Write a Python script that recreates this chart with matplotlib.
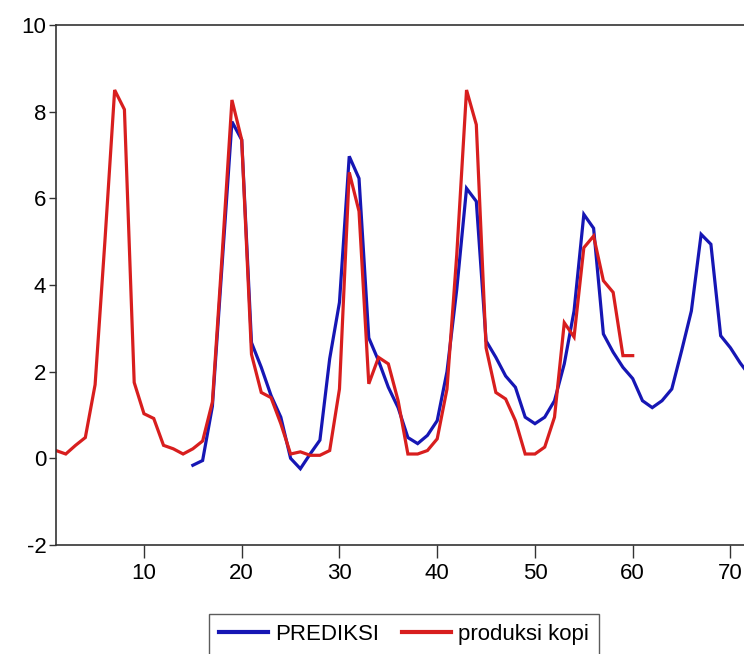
import numpy as np
import matplotlib
matplotlib.use("Agg")
import matplotlib.pyplot as plt

plt.rcParams['font.family'] = ['Liberation Sans', 'DejaVu Sans']
plt.rcParams['axes.unicode_minus'] = False

# produksi kopi: observations 1..60
prod_x = list(range(1, 61))
prod_y = [0.18, 0.10, 0.30, 0.48, 1.70, 5.00, 8.50, 8.05, 1.75, 1.03,
          0.92, 0.30, 0.22, 0.10, 0.22, 0.40, 1.30, 4.70, 8.27, 7.35,
          2.40, 1.52, 1.40, 0.80, 0.10, 0.15, 0.07, 0.07, 0.18, 1.60,
          6.60, 5.70, 1.72, 2.33, 2.18, 1.33, 0.10, 0.10, 0.18, 0.45,
          1.60, 4.70, 8.50, 7.70, 2.55, 1.52, 1.37, 0.87, 0.10, 0.10,
          0.26, 0.95, 3.13, 2.80, 4.86, 5.13, 4.10, 3.83, 2.37, 2.37]

# PREDIKSI: observations 15..72
pred_x = list(range(15, 73))
pred_y = [-0.16, -0.05, 1.20, 4.50, 7.77, 7.35, 2.67, 2.10, 1.45, 0.95,
          0.00, -0.24, 0.10, 0.42, 2.30, 3.60, 6.97, 6.46, 2.78, 2.25,
          1.64, 1.17, 0.48, 0.34, 0.53, 0.87, 2.00, 3.90, 6.23, 5.93,
          2.71, 2.33, 1.90, 1.64, 0.95, 0.80, 0.95, 1.33, 2.18, 3.40,
          5.63, 5.31, 2.87, 2.45, 2.10, 1.84, 1.33, 1.17, 1.33, 1.60,
          2.48, 3.40, 5.17, 4.94, 2.83, 2.55, 2.20, 1.90]

x_ticks = [10, 20, 30, 40, 50, 60, 70]
y_ticks = [-2, 0, 2, 4, 6, 8, 10]

W, H = 744, 654
fig = plt.figure(figsize=(W / 100, H / 100), dpi=100)
left_px, top_px, bottom_px, right_px = 56, 25, 545, 750
ax = fig.add_axes([left_px / W, 1 - bottom_px / H,
                   (right_px - left_px) / W, (bottom_px - top_px) / H])

ax.plot(pred_x, pred_y, color='#1616B4', lw=2.3, label='PREDIKSI',
        solid_joinstyle='miter')
ax.plot(prod_x, prod_y, color='#D81E1E', lw=2.3, label='produksi kopi',
        solid_joinstyle='miter')

ax.set_xlim(1, 72)
ax.set_ylim(-2, 10)
ax.set_xticks(x_ticks)
ax.set_yticks(y_ticks)
ax.tick_params(axis='both', direction='out', labelsize=16, color='#333333')
ax.tick_params(axis='x', length=9, width=1, pad=4)
ax.tick_params(axis='y', length=5, width=1, pad=2)
for s in ['left', 'top', 'bottom', 'right']:
    ax.spines[s].set_color('#333333')
    ax.spines[s].set_linewidth(1.2)

leg = fig.legend(loc='upper center', bbox_to_anchor=(404 / W, 1 - 614 / H),
                 ncol=2, fontsize=16, frameon=True, fancybox=False,
                 handlelength=2.2, handletextpad=0.35, columnspacing=1.0,
                 borderpad=0.45, borderaxespad=0)
leg.get_frame().set_edgecolor('#333333')
leg.get_frame().set_linewidth(1.0)
for line in leg.get_lines():
    line.set_linewidth(3)

fig.savefig('out.png', dpi=100)
